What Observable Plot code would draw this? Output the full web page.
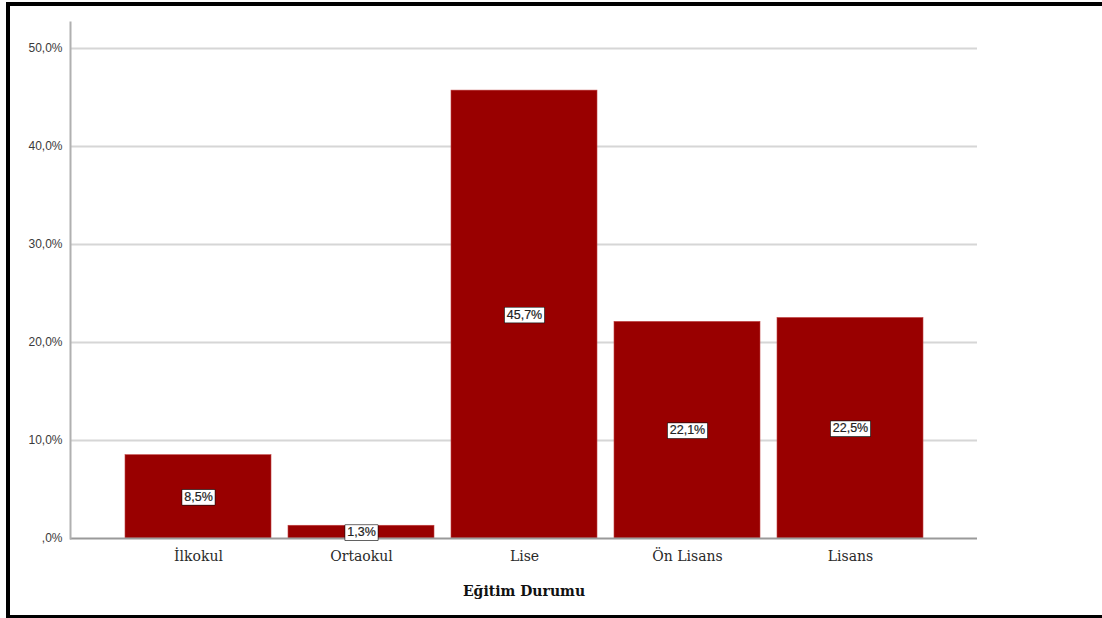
<!DOCTYPE html>
<html>
<head>
<meta charset="utf-8">
<script src="https://cdn.jsdelivr.net/npm/d3@7"></script>
<script src="https://cdn.jsdelivr.net/npm/@observablehq/plot@0.6"></script>
<style>
  html, body { margin: 0; padding: 0; background: #fff; }
  #wrap { position: relative; width: 1102px; height: 618px; overflow: hidden; }
  #wrap svg { position: absolute; left: 0; top: 0; }
  #frame { position: absolute; left: 6px; top: 2px; width: 1110px; height: 609px;
           border-left: 4px solid #000; border-top: 4px solid #000; border-bottom: 3px solid #000; }
</style>
</head>
<body>
<div id="wrap"><div id="frame"></div></div>
<script>
const categories = ["İlkokul", "Ortaokul", "Lise", "Ön Lisans", "Lisans"];
const percents = [8.5, 1.3, 45.7, 22.1, 22.5];
const yTicks = [0, 10, 20, 30, 40, 50];
const xTitle = "Eğitim Durumu";

const data = categories.map((c, i) => ({category: c, value: percents[i]}));
const fmt = d => d === 0 ? ",0%" : d.toFixed(1).replace(".", ",") + "%";

const chart = Plot.plot({
  width: 1102,
  height: 618,
  marginLeft: 70,
  marginRight: 125,
  marginTop: 22,
  marginBottom: 80,
  style: {background: "transparent", overflow: "visible"},
  x: {domain: categories, paddingInner: 0.106, paddingOuter: 0.33, label: null, axis: null},
  y: {domain: [0, 52.65], label: null, axis: null},
  marks: [
    Plot.ruleY(yTicks.filter(d => d > 0), {stroke: "#d6d6d6", strokeWidth: 2}),
    Plot.barY(data, {x: "category", y: "value", fill: "#990000", stroke: "#c04040", strokeWidth: 0.6, inset: 0}),
    Plot.ruleY([0], {stroke: "#9a9a9a", strokeWidth: 2}),
    Plot.frame({anchor: "left", stroke: "#b0b0b0", strokeWidth: 2}),
    Plot.axisY(yTicks, {tickSize: 0, tickPadding: 8, tickFormat: fmt, label: null,
      fontFamily: "Arial, 'Liberation Sans', sans-serif", fontSize: 12, fill: "#3a3a3a"}),
    Plot.axisX({tickSize: 0, tickPadding: 13, label: null,
      fontFamily: "'DejaVu Serif', serif", fontSize: 14, fill: "#2a2a2a"}),
    Plot.text([xTitle], {frameAnchor: "bottom", dy: 57, text: d => d, fontWeight: "bold",
      fontFamily: "'DejaVu Serif', serif", fontSize: 14, fill: "#111"}),
    Plot.text(data, {x: "category", y: d => d.value / 2, text: d => fmt(d.value), className: "vlabel",
      fontFamily: "Arial, 'Liberation Sans', sans-serif", fontSize: 12.5, fill: "#222",
      stroke: "#222", strokeWidth: 0.2})
  ]
});

document.getElementById("wrap").insertBefore(chart, document.getElementById("frame"));

// white boxes behind value labels
d3.select(chart).selectAll(".vlabel text").each(function() {
  const b = this.getBBox();
  const parent = this.parentNode;
  const r = document.createElementNS("http://www.w3.org/2000/svg", "rect");
  const t = this.getAttribute("transform");
  if (t) r.setAttribute("transform", t);
  r.setAttribute("x", b.x - 2);
  r.setAttribute("y", b.y);
  r.setAttribute("width", b.width + 4);
  r.setAttribute("height", b.height + 1);
  r.setAttribute("fill", "#fff");
  r.setAttribute("stroke", "#111");
  r.setAttribute("stroke-width", 1.3);
  parent.insertBefore(r, this);
});
</script>
</body>
</html>
